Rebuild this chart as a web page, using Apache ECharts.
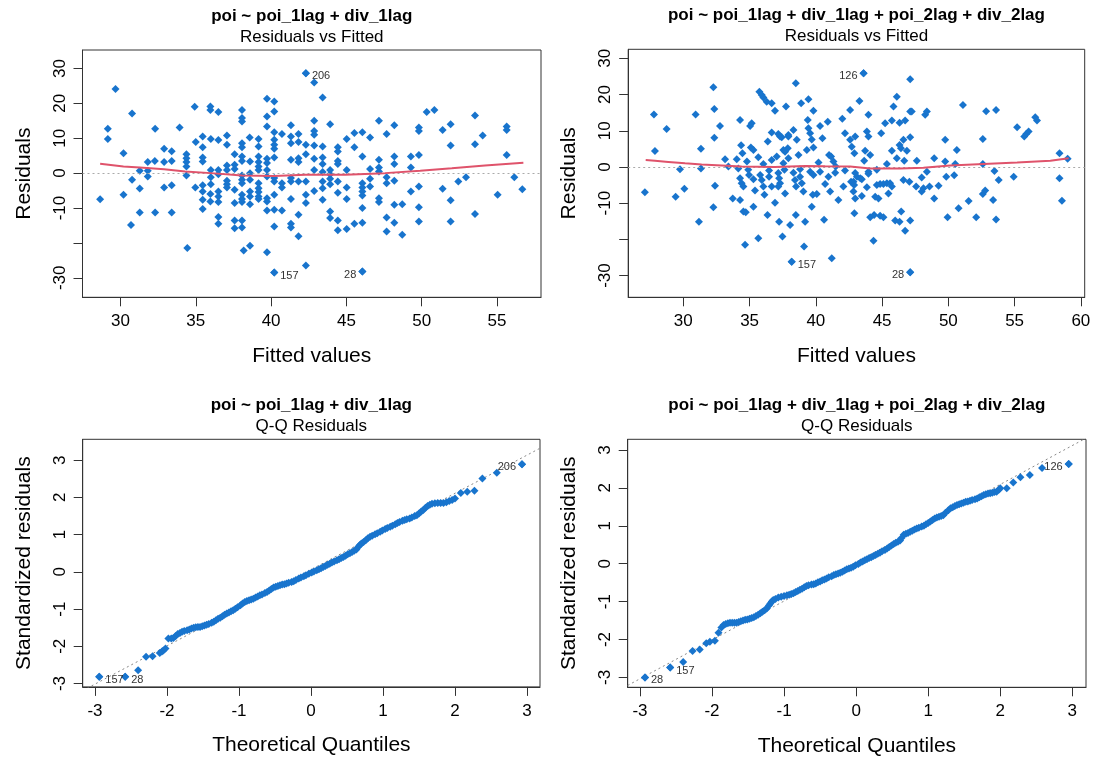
<!DOCTYPE html>
<html>
<head>
<meta charset="utf-8">
<script src="https://cdn.jsdelivr.net/npm/echarts@6/dist/echarts.min.js"></script>
<style>
html,body{margin:0;padding:0;background:#fff;}
#chart{width:1098px;height:760px;}
</style>
</head>
<body>
<div id="chart"></div>
<script>
// ---------------- DATA ----------------
const titles = ['poi ~ poi_1lag + div_1lag', 'poi ~ poi_1lag + div_1lag + poi_2lag + div_2lag'];
const subTitles = ['Residuals vs Fitted', 'Q-Q Residuals'];
const xNames = ['Fitted values', 'Theoretical Quantiles'];
const yNames = ['Residuals', 'Standardized residuals'];

const fittedTicks1 = [30, 35, 40, 45, 50, 55];
const fittedTicks2 = [30, 35, 40, 45, 50, 55, 60];
const residTicks = [-30, -20, -10, 0, 10, 20, 30];
const residTickLabels = [-30, -10, 0, 10, 20, 30];
const qqTicksX = [-3, -2, -1, 0, 1, 2, 3];
const qqTicksY = [-3, -2, -1, 0, 1, 2, 3];

// Model 1: residuals vs fitted  [fitted, residual]
const resid1 = [
[28.65,-7.5],[29.67,24.1],[29.16,12.7],[29.16,9.8],[30.2,5.7],[30.2,-6.2],[30.77,17.1],[30.77,-1.9],[30.7,-14.9],
[31.28,0.7],[31.28,-4.4],[31.28,-11.3],[31.81,3.2],[31.81,0.7],[31.81,-1.0],[32.28,3.5],[32.3,12.7],[32.3,-11.3],
[32.9,7.0],[32.9,3.2],[32.9,-4.1],[33.4,6.3],[33.4,3.5],[33.4,-3.5],[33.4,-11.3],[33.93,13.1],[34.38,5.4],[34.38,4.3],
[34.38,3.2],[34.38,1.9],[34.38,-0.7],[34.44,-21.5],[34.93,19.0],[35.0,8.9],[34.97,-4.1],[35.46,10.5],[35.46,7.4],
[35.46,4.5],[35.46,3.3],[35.46,-3.5],[35.46,-5.3],[35.46,-7.6],[35.46,-10.3],[35.97,19.1],[35.97,18.1],[36.0,9.8],
[36.0,0.9],[36.0,-1.2],[36.0,-3.2],[35.97,-6.0],[35.97,-8.1],[36.5,17.5],[36.5,9.5],[36.5,0.9],[36.5,-0.3],[36.5,-5.3],
[36.5,-6.7],[36.5,-8.3],[36.5,-12.6],[36.5,-14.5],[37.07,10.8],[37.07,8.1],[37.07,2.2],[37.07,0.9],[37.07,-2.2],
[37.07,-3.2],[37.07,-4.1],[37.58,5.4],[37.58,2.4],[37.58,1.2],[37.58,-4.8],[37.58,-8.6],[37.58,-13.6],[37.58,-15.8],
[38.07,18.1],[38.07,15.8],[38.07,14.8],[38.07,8.6],[38.07,7.4],[38.07,4.8],[38.07,3.5],[38.07,-0.7],[38.07,-1.9],
[38.07,-2.9],[38.07,-6.2],[38.07,-7.4],[38.07,-8.3],[38.07,-13.6],[38.07,-15.6],[38.18,-22.2],[38.6,-20.8],[38.58,10.2],
[38.6,3.3],[38.6,0],[38.6,-1.9],[38.6,-5.3],[38.6,-6.7],[38.6,-8.9],[39.17,9.8],[39.17,7.6],[39.17,4.8],[39.17,3.2],
[39.17,1.9],[39.17,0.9],[39.17,-2.9],[39.17,-4.3],[39.17,-5.4],[39.17,-6.7],[39.17,-7.4],[39.73,21.3],[39.73,16.2],
[39.73,13.4],[39.73,4.1],[39.73,2.9],[39.73,0.9],[39.73,-1.0],[39.73,-7.2],[39.73,-8.1],[39.73,-10.7],[39.73,-22.7],
[40.21,20.5],[40.21,17.7],[40.21,11.7],[40.21,9.6],[40.21,8.1],[40.21,7.0],[40.21,4.5],[40.21,-1.4],[40.21,-2.4],
[40.21,-6.2],[40.21,-10.5],[40.21,-15.3],[40.21,-28.5],[40.72,11.2],[40.72,-2.9],[40.72,-4.1],[40.72,-10.7],
[41.32,13.7],[41.32,10.5],[41.32,8.6],[41.32,3.8],[41.32,-1.4],[41.32,-2.4],[41.32,-7.4],[41.32,-14.5],[41.32,-15.6],
[41.82,11.2],[41.82,8.9],[41.82,4.3],[41.82,3.2],[41.82,-2.4],[41.82,-11.9],[41.82,-18.1],[42.31,28.6],[42.31,8.1],
[42.31,5.4],[42.31,-2.4],[42.31,-6.2],[42.31,-8.6],[42.31,-26.5],
[42.86,26.0],[43.42,21.7],[42.86,15.0],[42.86,12.1],[42.86,11.0],[42.86,7.9],[42.86,4.1],[42.86,0.9],[42.86,-5.1],
[43.42,7.6],[43.42,4.5],[43.42,2.6],[43.42,0.3],[43.42,-2.4],[43.42,-4.3],[43.42,-7.6],[43.92,14.0],[43.92,0.9],
[43.92,-0.3],[43.92,-1.6],[43.92,-3.2],[43.92,-11.0],[43.92,-12.9],[44.43,7.4],[44.43,6.2],[44.43,3.5],[44.43,2.6],
[44.43,-2.4],[44.43,-5.6],[44.43,-13.6],[44.43,-16.4],[45.02,9.8],[45.02,0.9],[45.02,-4.1],[45.02,-7.4],[45.02,-16.0],
[45.53,11.5],[45.53,7.4],[45.53,-14.5],[46.06,11.7],[46.06,4.8],[46.06,-2.9],[46.06,-4.1],[46.06,-5.3],[46.06,-6.4],
[46.06,-10.0],[46.06,-14.2],[46.06,-28.2],[46.57,10.2],[46.57,1.2],[46.57,-1.6],[46.57,-3.8],[47.16,15.0],[47.16,3.8],
[47.16,1.6],[47.16,0.5],[47.16,-7.2],[47.16,-8.3],[47.67,11.2],[47.67,-1.2],[47.67,-2.9],[47.67,-12.7],[47.67,-16.7],
[48.18,13.7],[48.18,4.8],[48.18,2.6],[48.18,-2.2],[48.18,-9.1],[48.18,-14.2],[48.71,-8.9],[48.71,-17.7],[49.28,4.8],
[49.28,1.6],[49.28,-5.3],[49.81,13.1],[49.81,12.1],[49.81,5.2],[49.81,-3.8],[49.81,-9.8],[49.81,-13.9],[50.33,17.5],
[50.84,18.1],[51.39,12.4],[51.39,-4.5],[51.92,14.0],[51.92,7.9],[51.92,-7.8],[51.92,-13.9],[52.43,-2.4],[52.94,-1.2],
[53.54,16.5],[53.54,8.3],[53.54,-11.7],[54.05,10.8],[55.04,-6.2],[55.64,13.4],[55.64,12.4],[55.64,5.2],[56.15,-1.2],
[56.68,-4.6]
];
const smooth1 = [[28.65,2.7],[30.2,1.9],[31.28,1.6],[32.9,1.1],[34.3,0.5],[36.0,0.0],[38.07,-0.7],[40.2,-0.8],
[42.27,-0.5],[44.92,-0.5],[47.57,0.0],[49.9,0.7],[52.0,1.4],[54.2,2.2],[56.75,3.0]];

// Model 2: residuals vs fitted
const resid2 = [
[27.1,-7.0],[27.78,14.5],[27.86,4.4],[28.74,10.5],[29.42,-8.2],[29.75,-0.6],[30.08,-6.0],[30.93,14.5],[31.18,-15.1],
[31.33,5.0],[31.33,-0.4],[32.27,22.0],[32.34,16.0],[32.34,8.1],[32.39,-5.2],[32.27,-11.1],[32.77,11.3],[33.15,2.1],
[33.4,0.1],[33.73,-8.7],[34.03,2.1],[34.28,13.0],[34.28,-9.1],[34.36,6.0],[34.46,3.8],[34.53,-12.3],[34.71,-12.5],
[34.66,-21.5],[34.8,1.5],[34.9,-0.8],[34.96,-2.2],[34.15,-0.4],[34.28,-3.1],[34.4,-4.5],[34.53,-5.4],[35.04,11.3],
[35.16,12.1],[35.1,5.4],[35.29,4.7],[35.29,-3.4],[35.41,-6.5],[35.29,-11.0],[35.66,2.7],[35.66,-19.7],[35.74,20.8],
[35.92,19.9],[36.04,19.2],[36.29,18.0],[36.67,17.6],[35.8,-2.2],[35.92,-3.6],[36.04,-5.4],[36.12,-7.7],[36.04,0.8],
[36.37,7.0],[36.35,-13.3],[36.47,-1.0],[36.47,-2.7],[36.67,9.5],[36.67,1.9],[36.67,-5.4],[36.92,15.5],[36.92,-9.9],
[37.05,2.9],[37.17,9.1],[37.3,8.4],[37.43,8.2],[37.17,-1.7],[37.23,-3.1],[37.3,-4.5],[37.17,-5.4],[37.23,-15.1],
[37.48,-19.2],[37.55,4.7],[37.68,4.2],[37.55,1.0],[37.63,-0.8],[37.68,-7.3],[37.75,16.7],[37.93,8.8],[37.93,8.4],
[37.88,5.2],[37.93,2.4],[38.06,-16.0],[38.18,-26.2],[38.31,10.2],[38.31,-1.6],[38.43,-3.6],[38.51,-5.4],[38.49,-13.3],
[38.49,23.1],[38.56,7.5],[38.69,3.3],[38.81,-0.6],[38.81,-2.7],[38.94,-4.5],[39.06,-6.8],[38.89,17.6],[39.11,-22.0],
[39.19,-15.1],[39.32,4.7],[39.39,13.0],[39.44,18.7],[39.44,10.7],[39.57,9.3],[39.69,7.6],[39.57,-1.3],[39.82,-2.2],
[39.69,-11.0],[39.77,-7.7],[39.82,15.5],[39.82,5.4],[40.07,-7.5],[40.2,1.2],[40.32,11.3],[40.32,-1.3],[40.5,7.9],
[40.62,-14.6],[40.7,-4.7],[40.9,12.5],[41.0,3.3],[41.15,2.9],[40.95,-2.7],[41.08,-6.8],[41.2,-25.2],[41.33,1.5],
[41.5,0.1],[41.46,-1.6],[41.7,-9.1],[42.0,13.3],[42.2,9.3],[42.2,-1.0],[42.08,-5.4],[42.59,15.7],[42.59,7.5],
[42.71,5.6],[42.66,-4.1],[42.91,3.8],[42.91,-12.8],
[43.6,25.9],[47.12,24.2],[43.29,18.2],[46.11,19.4],[45.86,16.7],[47.12,15.3],[47.24,15.3],[48.25,14.4],[48.38,15.3],
[43.97,14.4],[45.23,12.1],[45.74,12.8],[46.32,12.2],[46.74,12.8],[43.85,9.8],[43.97,8.4],[42.97,8.4],[44.93,9.3],
[46.61,7.5],[47.12,8.2],[46.32,6.1],[46.42,5.2],[46.87,4.5],[45.74,4.5],[43.72,4.5],[44.1,3.3],[46.11,2.4],[46.67,1.7],
[47.62,1.7],[43.65,1.7],[45.36,0.8],[44.6,-0.8],[43.97,-1.3],[43.97,-1.9],[42.97,-1.7],[43.1,-2.7],[43.35,-3.1],
[43.47,-3.4],[42.84,-4.1],[42.89,-5.0],[43.85,-5.6],[44.6,-5.0],[44.85,-4.7],[45.1,-4.7],[45.36,-4.5],[45.6,-4.5],
[45.74,-5.4],[42.84,-6.8],[42.97,-8.7],[43.47,-8.0],[44.48,-8.2],[44.73,-8.7],[45.48,-7.3],[46.61,-3.6],[47.06,-4.1],
[47.57,-5.4],[44.1,-13.9],[44.4,-13.3],[44.85,-13.5],[45.1,-13.9],[46.44,-12.3],[45.99,-14.8],[46.32,-15.1],
[47.12,-14.8],[46.74,-17.6],[44.35,-20.4],[47.12,-29.1],[47.99,-2.9],[47.99,-6.8],[48.12,-5.9],[48.38,-1.3],
[48.58,-5.4],[48.93,2.4],[48.93,-8.7],[49.26,-5.2],[49.76,7.5],[49.76,1.5],[49.84,-2.7],[49.94,-13.9],[50.44,-2.3],
[50.52,0.8],[50.64,4.7],[50.77,-11.4],[51.1,17.1],[51.53,-9.4],[52.1,-13.9],[52.6,7.7],[52.6,0.8],[52.6,-7.5],
[52.78,-6.5],[52.85,15.4],[53.38,-9.1],[53.48,-1.1],[53.6,15.7],[53.6,-14.5],[53.8,-3.6],[54.93,-2.7],[55.19,11.0],
[55.73,8.4],[55.88,9.1],[56.06,9.8],[56.56,13.7],[56.69,12.8],[58.39,3.8],[58.39,-3.1],[58.57,-9.3],[59.0,2.3]
];
const smooth2 = [[27.16,1.9],[27.86,1.7],[28.87,1.4],[30.13,1.0],[31.38,0.7],[32.9,0.4],[34.4,0.1],[36.9,0.0],
[39.2,0.3],[40.7,0.2],[42.59,0.1],[44.1,-0.4],[46.37,-0.4],[48.12,-0.2],[50.14,0.4],[52.66,0.8],[55.19,1.2],
[57.7,1.7],[59.08,2.4]];

// Q-Q model 1: [theoretical quantile, standardized residual]
const qq1 = [
[-2.94,-2.82],[-2.58,-2.82],[-2.4,-2.64],[-2.29,-2.28],[-2.2,-2.27],[-2.1,-2.18],[-2.07,-2.14],[-2.05,-2.11],[-2.02,-2.06],
[-1.98,-1.79],[-1.94,-1.79],[-1.91,-1.78],
[-1.88,-1.72],[-1.85,-1.67],[-1.82,-1.64],[-1.79,-1.61],[-1.76,-1.59],[-1.72,-1.57],[-1.69,-1.55],[-1.66,-1.52],
[-1.63,-1.50],[-1.60,-1.49],[-1.57,-1.48],[-1.54,-1.48],[-1.51,-1.46],[-1.48,-1.44],[-1.45,-1.42],[-1.42,-1.40],
[-1.38,-1.37],[-1.35,-1.34],[-1.32,-1.30],[-1.29,-1.26],[-1.26,-1.23],[-1.23,-1.19],[-1.20,-1.15],[-1.17,-1.12],
[-1.14,-1.09],[-1.11,-1.06],[-1.08,-1.03],[-1.05,-0.99],[-1.02,-0.95],[-0.98,-0.90],[-0.95,-0.85],[-0.92,-0.81],
[-0.89,-0.78],[-0.86,-0.76],[-0.83,-0.74],[-0.80,-0.72],[-0.77,-0.69],[-0.74,-0.66],[-0.71,-0.63],[-0.68,-0.61],
[-0.64,-0.57],[-0.61,-0.54],[-0.58,-0.50],[-0.55,-0.46],[-0.52,-0.42],[-0.49,-0.40],[-0.46,-0.38],[-0.43,-0.36],
[-0.40,-0.34],[-0.37,-0.33],[-0.34,-0.31],[-0.31,-0.29],[-0.27,-0.27],[-0.24,-0.25],[-0.21,-0.22],[-0.17,-0.18],
[-0.14,-0.15],[-0.10,-0.12],[-0.07,-0.09],[-0.03,-0.05],[0.01,-0.02],[0.04,0.01],[0.08,0.04],[0.11,0.07],
[0.14,0.10],[0.17,0.13],[0.20,0.16],[0.23,0.19],[0.26,0.22],[0.29,0.25],[0.32,0.28],[0.36,0.31],[0.39,0.34],
[0.42,0.37],[0.45,0.40],[0.48,0.43],[0.51,0.47],[0.54,0.50],[0.57,0.53],[0.60,0.57],[0.63,0.60],[0.66,0.68],
[0.68,0.72],[0.70,0.76],[0.73,0.80],[0.76,0.85],[0.79,0.90],[0.82,0.94],[0.85,0.97],[0.89,1.01],[0.92,1.04],
[0.96,1.08],[0.99,1.11],[1.03,1.15],[1.06,1.18],[1.10,1.21],[1.13,1.24],[1.17,1.28],[1.20,1.31],[1.23,1.34],
[1.27,1.37],[1.30,1.39],[1.33,1.41],[1.37,1.43],[1.40,1.46],[1.44,1.50],[1.47,1.52],[1.50,1.57],[1.53,1.62],
[1.56,1.66],[1.59,1.72],[1.62,1.77],[1.65,1.80],[1.68,1.83],[1.72,1.84],[1.76,1.85],[1.80,1.85],[1.84,1.85],
[1.88,1.87],[1.92,1.90],[1.96,1.93],[2.00,1.97],
[2.08,2.12],[2.17,2.15],[2.27,2.18],[2.38,2.51],[2.58,2.66],[2.93,2.89]
];
// Q-Q model 2
const qq2 = [
[-2.93,-3.0],[-2.58,-2.74],[-2.4,-2.59],[-2.27,-2.30],[-2.17,-2.26],[-2.08,-2.10],[-2.03,-2.06],[-1.96,-2.03],
[-1.91,-1.82],
[-1.87,-1.68],[-1.84,-1.62],[-1.81,-1.59],[-1.78,-1.57],[-1.75,-1.56],[-1.72,-1.56],[-1.69,-1.56],[-1.66,-1.56],
[-1.63,-1.54],[-1.60,-1.52],[-1.57,-1.50],[-1.54,-1.48],[-1.51,-1.47],[-1.48,-1.45],[-1.45,-1.43],[-1.42,-1.41],
[-1.39,-1.38],[-1.36,-1.35],[-1.33,-1.31],[-1.30,-1.27],[-1.27,-1.23],[-1.24,-1.18],[-1.21,-1.10],[-1.19,-1.05],
[-1.17,-1.00],[-1.15,-0.96],[-1.12,-0.93],[-1.08,-0.89],[-1.04,-0.87],[-1.00,-0.85],[-0.96,-0.83],[-0.93,-0.82],
[-0.90,-0.80],[-0.87,-0.78],[-0.84,-0.75],[-0.81,-0.72],[-0.78,-0.69],[-0.75,-0.66],[-0.72,-0.62],[-0.69,-0.59],
[-0.66,-0.57],[-0.62,-0.55],[-0.59,-0.54],[-0.56,-0.52],[-0.53,-0.49],[-0.50,-0.47],[-0.47,-0.44],[-0.44,-0.42],
[-0.41,-0.39],[-0.38,-0.36],[-0.34,-0.33],[-0.31,-0.30],[-0.28,-0.28],[-0.25,-0.26],[-0.22,-0.24],[-0.19,-0.21],
[-0.16,-0.18],[-0.13,-0.15],[-0.10,-0.13],[-0.07,-0.11],[-0.04,-0.08],[-0.01,-0.04],[0.03,-0.01],[0.06,0.03],
[0.09,0.06],[0.12,0.09],[0.15,0.12],[0.18,0.15],[0.21,0.17],[0.24,0.20],[0.27,0.23],[0.30,0.26],[0.33,0.29],
[0.36,0.33],[0.40,0.36],[0.43,0.40],[0.46,0.44],[0.49,0.48],[0.52,0.52],[0.55,0.55],[0.58,0.58],[0.61,0.61],
[0.63,0.68],[0.66,0.76],[0.69,0.79],[0.72,0.81],[0.75,0.84],[0.78,0.87],[0.81,0.90],[0.84,0.93],[0.87,0.95],
[0.91,0.98],[0.94,1.00],[0.97,1.04],[1.00,1.07],[1.03,1.11],[1.06,1.15],[1.09,1.19],[1.12,1.22],[1.15,1.24],
[1.18,1.26],[1.21,1.28],[1.24,1.34],[1.28,1.41],[1.31,1.46],[1.34,1.49],[1.37,1.52],[1.40,1.55],[1.43,1.57],
[1.46,1.59],[1.49,1.61],[1.52,1.63],[1.55,1.64],[1.58,1.66],[1.61,1.68],[1.65,1.70],[1.68,1.72],[1.71,1.75],
[1.74,1.78],[1.77,1.81],[1.80,1.83],[1.83,1.85],[1.86,1.86],[1.89,1.87],[1.92,1.89],[1.95,1.90],[1.98,1.95],
[2.00,1.99],
[2.09,1.99],[2.18,2.14],[2.28,2.28],[2.41,2.34],[2.58,2.52],[2.95,2.63]
];
const qqRef1 = [[-3.17,-3.19],[3.18,3.32]];
const qqRef2 = [[-3.17,-3.21],[3.19,3.31]];

// labelled observations
const ids1 = [['206',42.31,28.6],['157',40.21,-28.5],['28',46.06,-28.2]];
const ids2 = [['126',43.6,25.9],['157',38.18,-26.2],['28',47.12,-29.1]];
const idsQ1 = [['157',-2.94,-2.82],['28',-2.58,-2.82],['206',2.93,2.89]];
const idsQ2 = [['28',-2.93,-3.0],['157',-2.58,-2.74],['126',2.95,2.63]];

// ---------------- STYLE / LAYOUT ----------------
const FONT = 'Liberation Sans, Arial, sans-serif';
const PT = '#1874CD';
const RED = '#DF536B';
const grids = [
  {left: 82.5, top: 50, width: 458.5, height: 247.3},
  {left: 628.2, top: 49.3, width: 456.5, height: 248},
  {left: 82.7, top: 439.3, width: 457.3, height: 247.6},
  {left: 627.7, top: 439.3, width: 458.3, height: 248}
];
const xr = [[27.48,57.92],[25.84,60.29],[-3.17,3.18],[-3.17,3.19]];
const yr = [[-35.6,35.3],[-36.0,32.5],[-3.09,3.56],[-3.26,3.28]];
const labelSide = {0:{'206':'right','157':'right','28':'left'},1:{'126':'left','157':'right','28':'left'},
  2:{'157':'right','28':'right','206':'left'},3:{'28':'right','157':'right','126':'left'}};

function xAxis(i, ticks, name) {
  return {
    type: 'value', gridIndex: i, min: xr[i][0], max: xr[i][1],
    name: name, nameLocation: 'middle', nameGap: 48,
    nameTextStyle: {fontSize: 21, color: '#000', fontFamily: FONT},
    axisLine: {show: true, onZero: false, lineStyle: {color: '#333', width: 1}},
    axisTick: {show: true, length: 9, customValues: ticks, lineStyle: {color: '#333'}},
    axisLabel: {customValues: ticks, fontSize: 17, color: '#000', fontFamily: FONT, margin: 16},
    splitLine: {show: false}
  };
}
function yAxis(i, ticks, labels, name) {
  return {
    type: 'value', gridIndex: i, min: yr[i][0], max: yr[i][1],
    name: name, nameLocation: 'middle', nameGap: 48,
    nameTextStyle: {fontSize: 21, color: '#000', fontFamily: FONT},
    axisLine: {show: true, onZero: false, lineStyle: {color: '#333', width: 1}},
    axisTick: {show: true, length: 9, customValues: ticks, lineStyle: {color: '#333'}},
    axisLabel: {customValues: labels, rotate: 90, fontSize: 17, color: '#000', fontFamily: FONT, margin: 14},
    splitLine: {show: false}
  };
}
function pointSeries(i, data) {
  return {type: 'scatter', xAxisIndex: i, yAxisIndex: i, data: data, symbol: 'diamond',
    symbolSize: [8, 8], itemStyle: {color: PT, opacity: 1}, silent: true, z: 3};
}
function idSeries(i, ids) {
  return {type: 'scatter', xAxisIndex: i, yAxisIndex: i, symbol: 'diamond', symbolSize: [8, 8],
    itemStyle: {color: PT, opacity: 1}, silent: true, z: 4,
    data: ids.map(d => ({name: d[0], value: [d[1], d[2]],
      label: {show: true, formatter: d[0], position: labelSide[i][d[0]], distance: 2,
        offset: [0, 3], fontSize: 11, color: '#333', fontFamily: FONT}}))};
}

const titleList = [];
grids.forEach((g, i) => {
  const cx = g.left + g.width / 2;
  titleList.push({text: titles[i % 2], left: cx, top: g.top - 43, textAlign: 'center', padding: 0,
    textStyle: {fontSize: 17, fontWeight: 'bold', color: '#000', fontFamily: FONT, lineHeight: 18}});
  titleList.push({text: subTitles[i < 2 ? 0 : 1], left: cx, top: g.top - 22, textAlign: 'center', padding: 0,
    textStyle: {fontSize: 17, fontWeight: 'normal', color: '#000', fontFamily: FONT, lineHeight: 18}});
});

const zeroLine = {silent: true, symbol: 'none', label: {show: false},
  lineStyle: {type: [2, 3], color: '#aaa', width: 1}, data: [{yAxis: 0}]};

const series = [
  Object.assign(pointSeries(0, resid1), {markLine: zeroLine}),
  {type: 'line', xAxisIndex: 0, yAxisIndex: 0, data: smooth1, symbol: 'none', lineStyle: {color: RED, width: 2}, z: 5, silent: true},
  idSeries(0, ids1),
  Object.assign(pointSeries(1, resid2), {markLine: zeroLine}),
  {type: 'line', xAxisIndex: 1, yAxisIndex: 1, data: smooth2, symbol: 'none', lineStyle: {color: RED, width: 2}, z: 5, silent: true},
  idSeries(1, ids2),
  {type: 'line', xAxisIndex: 2, yAxisIndex: 2, data: qqRef1, symbol: 'none', clip: true,
    lineStyle: {type: [2, 3], color: '#888', width: 1}, z: 2, silent: true},
  pointSeries(2, qq1),
  idSeries(2, idsQ1),
  {type: 'line', xAxisIndex: 3, yAxisIndex: 3, data: qqRef2, symbol: 'none', clip: true,
    lineStyle: {type: [2, 3], color: '#888', width: 1}, z: 2, silent: true},
  pointSeries(3, qq2),
  idSeries(3, idsQ2)
];

const chart = echarts.init(document.getElementById('chart'), null, {renderer: 'canvas'});
chart.setOption({
  animation: false,
  backgroundColor: '#fff',
  title: titleList,
  grid: grids.map(g => Object.assign({show: true, borderColor: '#333', borderWidth: 1, containLabel: false}, g)),
  xAxis: [xAxis(0, fittedTicks1, xNames[0]), xAxis(1, fittedTicks2, xNames[0]),
          xAxis(2, qqTicksX, xNames[1]), xAxis(3, qqTicksX, xNames[1])],
  yAxis: [yAxis(0, residTicks, residTickLabels, yNames[0]), yAxis(1, residTicks, residTickLabels, yNames[0]),
          yAxis(2, qqTicksY, qqTicksY, yNames[1]), yAxis(3, qqTicksY, qqTicksY, yNames[1])],
  series: series
});
</script>
</body>
</html>
